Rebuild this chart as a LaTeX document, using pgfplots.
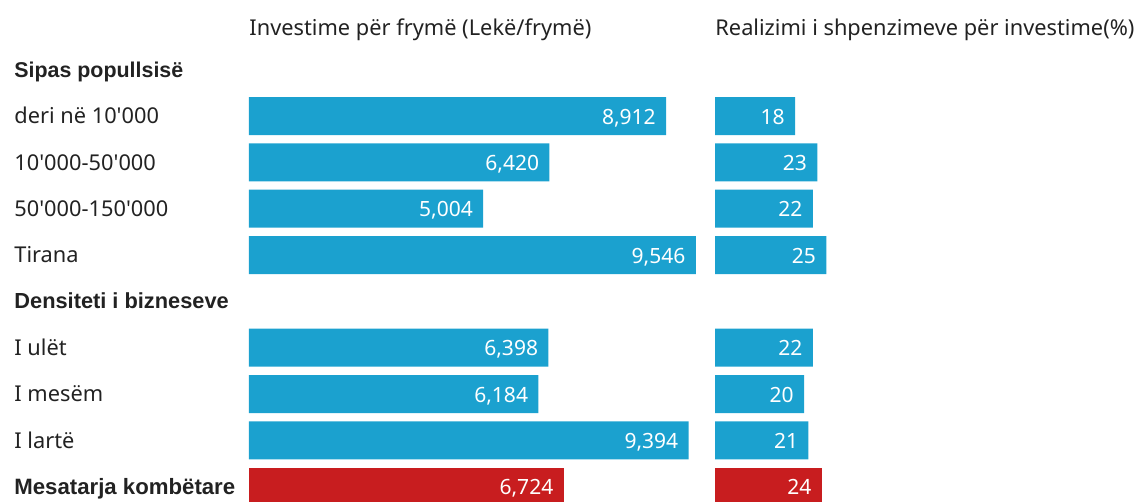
\documentclass[border=0pt]{standalone}
\usepackage{pgfplots}
\pgfplotsset{compat=1.18}
\usepackage{fontspec}
\setmainfont{Noto Sans}[BoldFont={Liberation Sans Bold}]
\definecolor{barblue}{HTML}{1BA1CF}
\definecolor{barred}{HTML}{C81D1F}
\definecolor{txt}{HTML}{222222}
\pgfplotsset{
  rowbars/.style={
    anchor=origin, y=23.165pt, y dir=reverse,
    ymin=-1.5, ymax=9.6, axis lines=none, clip=false,
    xbar, bar width=19pt, bar shift=0pt,
    point meta=x,
    nodes near coords={\pgfmathprintnumber[1000 sep={,},fixed,precision=0]{\pgfplotspointmeta}},
    nodes near coords style={anchor=base east, text=white, font=\fontsize{10.5}{12}\selectfont, xshift=-5pt, yshift=-4pt, inner sep=0pt},
    /pgf/number format/assume math mode=true,
  }
}
\begin{document}
\begin{tikzpicture}
\useasboundingbox (0,0) rectangle (570.5pt,-251pt);
\clip (0,0) rectangle (570.5pt,-251pt);
% left panel
\begin{axis}[rowbars, at={(124.5pt,-34.85pt)}, x=0.0234pt, xmin=0, xmax=10000]
\addplot[fill=barblue, draw=none] coordinates {(8912,1) (6420,2) (5004,3) (9546,4) (6398,6) (6184,7) (9394,8)};
\addplot[fill=barred, draw=none] coordinates {(6724,9)};
\begin{scope}[every node/.style={anchor=base west, inner sep=0pt, text=txt, font=\fontsize{10.9}{12}\selectfont}]
\node[yshift=-4pt] at (axis cs:0,-0.92) {Investime për frymë (Lekë/frymë)};
\node[xshift=-117.5pt, yshift=-3.75pt, font=\fontsize{10.7}{12}\selectfont\bfseries] at (axis cs:0,0) {Sipas popullsisë};
\node[xshift=-117.5pt, yshift=-3.85pt] at (axis cs:0,1) {deri në 10\textquotesingle000};
\node[xshift=-117.5pt, yshift=-3.85pt] at (axis cs:0,2) {10\textquotesingle000-50\textquotesingle000};
\node[xshift=-117.5pt, yshift=-3.85pt] at (axis cs:0,3) {50\textquotesingle000-150\textquotesingle000};
\node[xshift=-117.5pt, yshift=-3.85pt] at (axis cs:0,4) {Tirana};
\node[xshift=-117.5pt, yshift=-3.75pt, font=\fontsize{10.9}{12}\selectfont\bfseries] at (axis cs:0,5) {Densiteti i bizneseve};
\node[xshift=-117.5pt, yshift=-3.85pt] at (axis cs:0,6) {I ulët};
\node[xshift=-117.5pt, yshift=-3.85pt] at (axis cs:0,7) {I mesëm};
\node[xshift=-117.5pt, yshift=-3.85pt] at (axis cs:0,8) {I lartë};
\node[xshift=-117.5pt, yshift=-3.85pt, font=\fontsize{11.1}{12}\selectfont\bfseries] at (axis cs:0,9) {Mesatarja kombëtare};
\end{scope}
\end{axis}
% right panel
\begin{axis}[rowbars, at={(357.5pt,-34.85pt)}, x=2.225pt, xmin=0, xmax=30]
\addplot[fill=barblue, draw=none] coordinates {(18,1) (23,2) (22,3) (25,4) (22,6) (20,7) (21,8)};
\addplot[fill=barred, draw=none] coordinates {(24,9)};
\node[anchor=base west, inner sep=0pt, text=txt, font=\fontsize{10.9}{12}\selectfont, yshift=-4pt] at (axis cs:0,-0.92) {Realizimi i shpenzimeve për investime(\%)};
\end{axis}
\end{tikzpicture}
\end{document}
